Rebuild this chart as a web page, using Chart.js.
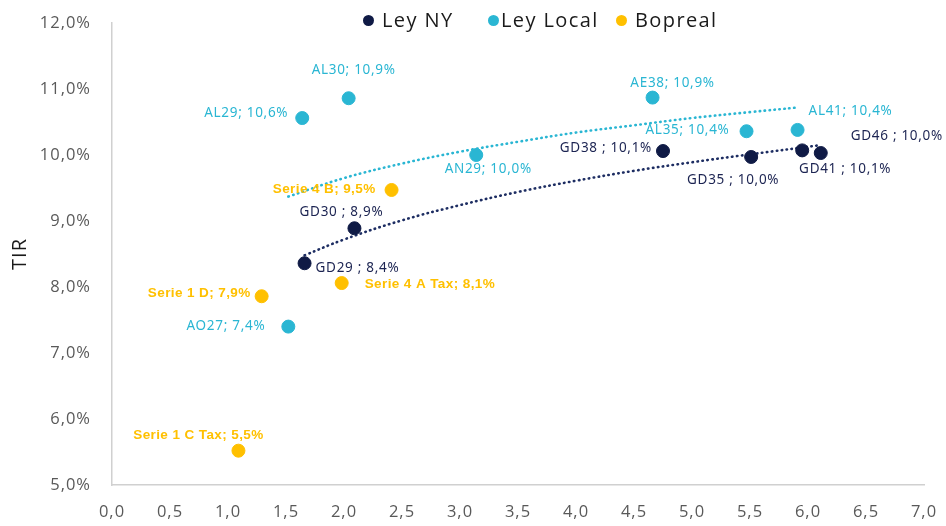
<!DOCTYPE html>
<html>
<head>
<meta charset="utf-8">
<script src="https://cdn.jsdelivr.net/npm/chart.js@4.4.1/dist/chart.umd.min.js"></script>
<style>
    html, body { margin: 0; padding: 0; background: #fff; }
    .wrap { position: relative; width: 946px; height: 526px; }
    .legend { position: absolute; top: 6px; left: 0; font-family: "Open Sans", sans-serif; font-size: 20px; letter-spacing: 1.4px; color: #1a1a1a; }
    .legend span { position: absolute; white-space: nowrap; line-height: 28px; }
    .legend i { position: absolute; width: 11px; height: 11px; border-radius: 50%; top: 9px; }
</style>
</head>
<body>
<div class="wrap">
    <canvas id="myChart" width="946" height="526"></canvas>
    <div class="legend">
        <i style="left:363px;background:#0f1a45"></i><span style="left:382px">Ley NY</span>
        <i style="left:488px;background:#2ab6d3"></i><span style="left:501px">Ley Local</span>
        <i style="left:616px;background:#ffc000"></i><span style="left:635px">Bopreal</span>
    </div>
</div>
<script>
// Ley NY
const nyNames = ['GD29', 'GD30', 'GD38', 'GD35', 'GD41', 'GD46'];
const nyDur = [1.66, 2.09, 4.75, 5.51, 5.95, 6.11];
const nyTir = [8.36, 8.89, 10.06, 9.97, 10.07, 10.03];

// Ley Local
const localNames = ['AL29', 'AL30', 'AN29', 'AE38', 'AL35', 'AL41', 'AO27'];
const localDur = [1.64, 2.04, 3.14, 4.66, 5.47, 5.91, 1.52];
const localTir = [10.56, 10.86, 10.0, 10.87, 10.36, 10.38, 7.4];

// Bopreal
const bopNames = ['Serie 4 B', 'Serie 4 A Tax', 'Serie 1 D', 'Serie 1 C Tax'];
const bopDur = [2.41, 1.98, 1.29, 1.09];
const bopTir = [9.47, 8.06, 7.86, 5.52];

// lineas de tendencia (log)
const nyTrendX = [1.66, 2.0, 2.5, 3.0, 3.5, 4.0, 4.5, 5.0, 5.5, 6.11];
const nyTrendY = [8.48, 8.72, 9.01, 9.24, 9.44, 9.61, 9.76, 9.89, 10.01, 10.15];
const localTrendX = [1.52, 2.0, 2.5, 3.0, 3.5, 4.0, 4.5, 5.0, 5.5, 5.91];
const localTrendY = [9.37, 9.65, 9.87, 10.05, 10.20, 10.34, 10.45, 10.56, 10.65, 10.72];

const NAVY = '#0f1a45';
const CYAN = '#2ab6d3';
const GOLD = '#ffc000';

function toPoints(xs, ys) {
    return xs.map((x, i) => ({ x: x, y: ys[i] }));
}

function pct(v) {
    return v.toFixed(1).replace('.', ',') + '%';
}

// espaciado de letras para los ejes
const tickSpacing = {
    id: 'tickSpacing',
    beforeDraw(chart) { chart.ctx.letterSpacing = '1px'; },
    afterDraw(chart) { chart.ctx.letterSpacing = '0px'; }
};

// etiquetas de datos: [dx, dy, align]
const pointLabels = {
    id: 'pointLabels',
    afterDatasetsDraw(chart) {
        const ctx = chart.ctx;
        chart.data.datasets.forEach((ds, di) => {
            if (!ds.names) return;
            const meta = chart.getDatasetMeta(di);
            ctx.save();
            ctx.font = ds.labelFont;
            ctx.letterSpacing = ds.labelSpacing;
            ctx.fillStyle = ds.labelColor;
            ctx.textBaseline = 'middle';
            meta.data.forEach((pt, i) => {
                const off = ds.labelOffsets[i];
                ctx.textAlign = off[2];
                const text = ds.names[i] + ds.sep + pct(ds.data[i].y);
                ctx.fillText(text, pt.x + off[0], pt.y + off[1]);
            });
            ctx.restore();
        });
    }
};

const ctx = document.getElementById('myChart').getContext('2d');
const myChart = new Chart(ctx, {
    type: 'scatter',
    data: {
        datasets: [{
            label: 'Ley NY',
            data: toPoints(nyDur, nyTir),
            names: nyNames,
            sep: ' ; ',
            labelFont: '13.5px "Noto Sans", sans-serif',
            labelSpacing: '0.7px',
            labelColor: '#1c2452',
            labelOffsets: [[11, 5, 'left'], [-13, -16, 'center'], [-11, -3, 'right'], [-18, 23, 'center'], [43, 19, 'center'], [30, -17, 'left']],
            backgroundColor: NAVY,
            borderColor: NAVY,
            pointRadius: 6.5,
            pointHoverRadius: 6.5,
            order: 1
        }, {
            label: 'Ley Local',
            data: toPoints(localDur, localTir),
            names: localNames,
            sep: '; ',
            labelFont: '13.5px "Noto Sans", sans-serif',
            labelSpacing: '0.7px',
            labelColor: CYAN,
            labelOffsets: [[-14, -5, 'right'], [5, -28, 'center'], [12, 14, 'center'], [20, -14, 'center'], [-17, -1, 'right'], [11, -19, 'left'], [-23, 0, 'right']],
            backgroundColor: CYAN,
            borderColor: CYAN,
            pointRadius: 6.5,
            pointHoverRadius: 6.5,
            order: 1
        }, {
            label: 'Bopreal',
            data: toPoints(bopDur, bopTir),
            names: bopNames,
            sep: '; ',
            labelFont: 'bold 13.5px "Liberation Sans", sans-serif',
            labelSpacing: '0.4px',
            labelColor: GOLD,
            labelOffsets: [[-16, -1, 'right'], [23, 1, 'left'], [-11, -3, 'right'], [-40, -15, 'center']],
            backgroundColor: GOLD,
            borderColor: GOLD,
            pointRadius: 6.5,
            pointHoverRadius: 6.5,
            order: 1
        }, {
            type: 'line',
            label: 'Tendencia Ley NY',
            data: toPoints(nyTrendX, nyTrendY),
            borderColor: '#1d2d62',
            borderWidth: 2.6,
            borderDash: [0.5, 4.5],
            borderCapStyle: 'round',
            pointRadius: 0,
            tension: 0.4,
            fill: false,
            order: 2
        }, {
            type: 'line',
            label: 'Tendencia Ley Local',
            data: toPoints(localTrendX, localTrendY),
            borderColor: CYAN,
            borderWidth: 2.6,
            borderDash: [0.5, 4.5],
            borderCapStyle: 'round',
            pointRadius: 0,
            tension: 0.4,
            fill: false,
            order: 2
        }]
    },
    options: {
        responsive: false,
        animation: false,
        layout: { padding: { top: 23, right: 22, left: 0, bottom: 0 } },
        plugins: {
            legend: { display: false },
            tooltip: { enabled: false }
        },
        scales: {
            x: {
                type: 'linear',
                min: 0,
                max: 7,
                ticks: {
                    stepSize: 0.5,
                    padding: 17,
                    color: '#595959',
                    font: { family: '"Open Sans"', size: 16.5 },
                    callback: v => v.toFixed(1).replace('.', ',')
                },
                grid: { display: false, drawTicks: false },
                border: { color: '#d0d0d0', width: 1.5 },
                afterFit: s => { s.height = 41; s.paddingLeft = 0; s.paddingRight = 0; }
            },
            y: {
                min: 5,
                max: 12,
                ticks: {
                    stepSize: 1,
                    padding: 21,
                    color: '#595959',
                    font: { family: '"Open Sans"', size: 16.5 },
                    callback: v => pct(v)
                },
                title: {
                    display: true,
                    text: 'TIR',
                    color: '#1a1a1a',
                    font: { family: '"Open Sans"', size: 20 },
                    padding: { top: 8, bottom: 0 }
                },
                grid: { display: false, drawTicks: false },
                border: { color: '#d0d0d0', width: 1.5 },
                afterFit: s => { s.width = 112; s.paddingTop = 0; s.paddingBottom = 0; }
            }
        }
    },
    plugins: [tickSpacing, pointLabels]
});
</script>
</body>
</html>
